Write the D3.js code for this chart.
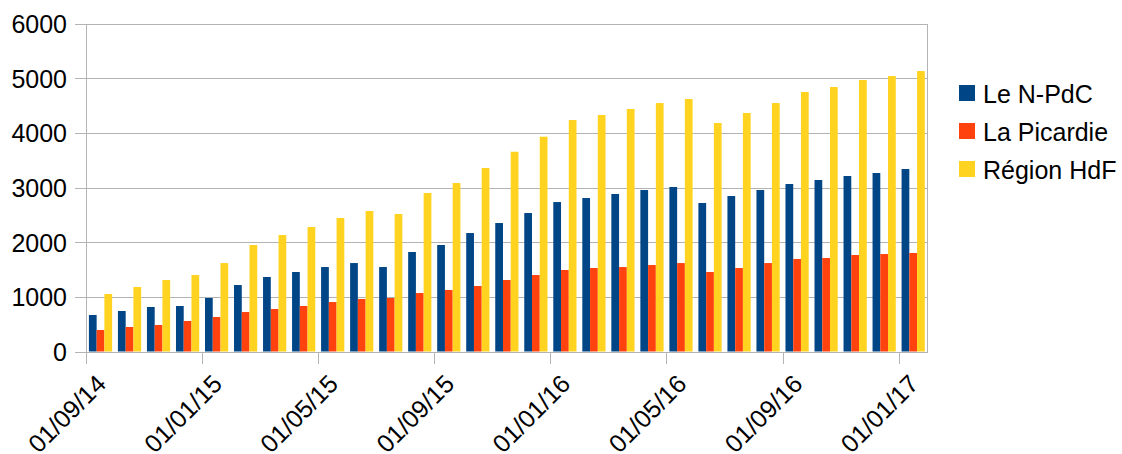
<!DOCTYPE html>
<html>
<head>
<meta charset="utf-8">
<script src="https://cdn.jsdelivr.net/npm/d3@7"></script>
<style>
  html, body { margin: 0; padding: 0; background: #ffffff; }
  svg { display: block; font-family: "Liberation Sans", Arial, sans-serif; }
</style>
</head>
<body>
<svg id="chart" width="1122" height="454"></svg>
<script>
// Monthly categories (first day of each month)
const months = [
  "01/09/14", "01/10/14", "01/11/14", "01/12/14",
  "01/01/15", "01/02/15", "01/03/15", "01/04/15",
  "01/05/15", "01/06/15", "01/07/15", "01/08/15",
  "01/09/15", "01/10/15", "01/11/15", "01/12/15",
  "01/01/16", "01/02/16", "01/03/16", "01/04/16",
  "01/05/16", "01/06/16", "01/07/16", "01/08/16",
  "01/09/16", "01/10/16", "01/11/16", "01/12/16",
  "01/01/17"
];

const seriesNames = ["Le N-PdC", "La Picardie", "Région HdF"];

const npdc = [668, 741, 814, 832, 979, 1216, 1363, 1454, 1545, 1618,
              1545, 1820, 1948, 2167, 2350, 2533, 2734, 2807, 2881, 2954,
              3009, 2716, 2844, 2954, 3064, 3137, 3210, 3265, 3338];
const picardie = [393, 448, 485, 558, 631, 722, 777, 832, 905, 960,
                  979, 1070, 1125, 1198, 1308, 1399, 1491, 1527, 1545, 1582,
                  1618, 1454, 1527, 1618, 1692, 1710, 1765, 1783, 1802];
const hdf = [1052, 1180, 1308, 1399, 1618, 1948, 2131, 2277, 2442, 2570,
             2515, 2899, 3082, 3357, 3654, 3929, 4234, 4326, 4436, 4545,
             4619, 4180, 4363, 4545, 4747, 4838, 4966, 5039, 5130];

const yTicks = [0, 1000, 2000, 3000, 4000, 5000, 6000];
const xTickLabels = ["01/09/14", "01/01/15", "01/05/15", "01/09/15",
                     "01/01/16", "01/05/16", "01/09/16", "01/01/17"];

const colors = ["#004586", "#ff420e", "#ffd320"];
const seriesValues = [npdc, picardie, hdf];

// Plot geometry
const plotLeft = 86, plotRight = 927.7, plotTop = 23.5, plotBottom = 351.5;
const gridColor = "#b3b3b3";
const fontSize = 25;

const svg = d3.select("#chart");

const y = d3.scaleLinear().domain([0, 6000]).range([plotBottom, plotTop]);

const x0 = d3.scaleBand()
  .domain(months)
  .range([plotLeft, plotRight])
  .paddingInner(0.2)
  .paddingOuter(0.1);

const x1 = d3.scaleBand()
  .domain(seriesNames)
  .range([0, x0.bandwidth()]);

// Category boundaries for the tick marks
const xIdx = d3.scaleLinear().domain([0, months.length]).range([plotLeft, plotRight]);

// Horizontal gridlines with short outer ticks
const yAxis = d3.axisLeft(y)
  .tickValues(yTicks)
  .tickSize(-(plotRight - plotLeft))
  .tickSizeOuter(0)
  .tickFormat(d3.format("d"));

const gy = svg.append("g")
  .attr("transform", `translate(${plotLeft},0)`)
  .call(yAxis);
gy.select(".domain").remove();
gy.selectAll(".tick line")
  .attr("x1", -11)
  .attr("stroke", gridColor)
  .attr("shape-rendering", "crispEdges");
gy.selectAll(".tick text")
  .attr("x", -19)
  .attr("dy", "0.36em")
  .attr("fill", "#000")
  .style("font-size", fontSize + "px")
  .style("font-family", "Liberation Sans, Arial, sans-serif");

// Plot frame: left and right edges
svg.append("line")
  .attr("x1", plotLeft).attr("x2", plotLeft)
  .attr("y1", plotTop).attr("y2", plotBottom)
  .attr("stroke", gridColor)
  .attr("shape-rendering", "crispEdges");
svg.append("line")
  .attr("x1", plotRight).attr("x2", plotRight)
  .attr("y1", plotTop).attr("y2", plotBottom)
  .attr("stroke", gridColor)
  .attr("shape-rendering", "crispEdges");

// Bars
const groups = svg.append("g")
  .selectAll("g")
  .data(months)
  .join("g")
  .attr("transform", d => `translate(${x0(d)},0)`);

groups.selectAll("rect")
  .data((d, i) => seriesNames.map((s, k) => ({ s, v: seriesValues[k][i], c: colors[k] })))
  .join("rect")
  .attr("x", d => x1(d.s))
  .attr("width", x1.bandwidth())
  .attr("y", d => y(d.v))
  .attr("height", d => plotBottom - y(d.v))
  .attr("fill", d => d.c);

// Bottom axis with ticks at every fourth month boundary
const tickIndex = xTickLabels.map(l => months.indexOf(l));
const xAxis = d3.axisBottom(xIdx)
  .tickValues(tickIndex)
  .tickSize(12)
  .tickSizeOuter(0)
  .tickFormat(i => months[i]);

const gx = svg.append("g")
  .attr("transform", `translate(0,${plotBottom})`)
  .call(xAxis);
gx.select(".domain")
  .attr("stroke", gridColor)
  .attr("shape-rendering", "crispEdges");
gx.selectAll(".tick line")
  .attr("stroke", gridColor)
  .attr("shape-rendering", "crispEdges");
gx.selectAll(".tick text")
  .attr("fill", "#000")
  .attr("y", 0)
  .attr("dy", 0)
  .attr("text-anchor", "end")
  .attr("transform", "translate(21,34) rotate(-45)")
  .style("font-size", fontSize + "px")
  .style("font-family", "Liberation Sans, Arial, sans-serif");

// Legend
const legend = svg.append("g")
  .selectAll("g")
  .data(seriesNames)
  .join("g")
  .attr("transform", (d, i) => `translate(959,${85 + i * 38})`);
legend.append("rect")
  .attr("width", 16).attr("height", 16)
  .attr("fill", (d, i) => colors[i]);
legend.append("text")
  .attr("x", 24)
  .attr("y", 18.3)
  .attr("fill", "#000")
  .style("font-size", fontSize + "px")
  .text(d => d);
</script>
</body>
</html>
